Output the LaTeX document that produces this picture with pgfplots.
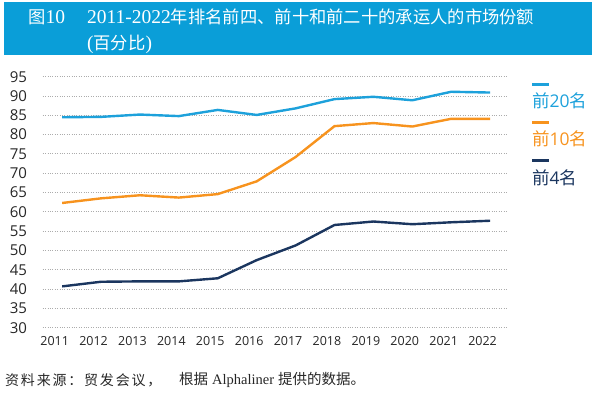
\documentclass[border=0pt]{standalone}
\usepackage{fontspec}
\usepackage{pgfplots}
\pgfplotsset{compat=1.18}
\setmainfont{Open Sans}
\newfontfamily\cjk{Noto Sans CJK SC}
\newfontfamily\tnr{Liberation Serif}
\definecolor{c20}{HTML}{1DA1DB}
\definecolor{c10}{HTML}{F7931E}
\definecolor{c4}{HTML}{1B365F}
\definecolor{bar}{HTML}{0A9ED8}
\definecolor{tick}{HTML}{262626}
\begin{document}
\begin{tikzpicture}
\begin{scope}[x=1pt,y=-1pt]
\useasboundingbox (0,0) rectangle (596,399);
\fill[bar] (4,2) rectangle (592,55);
\node[anchor=west,inner sep=0,text=white] at (28,17) {\fontsize{17.3}{18}\cjk 图\tnr\fontsize{19.5}{20}\selectfont 10};
\node[anchor=west,inner sep=0,text=white] at (87,17) {\tnr\fontsize{19.5}{20}\selectfont 2011-2022\fontsize{17.3}{18}\cjk 年排名前四、前十和前二十的承运人的市场份额};
\node[anchor=west,inner sep=0,text=white] at (87,44) {\tnr\fontsize{19.5}{20}\selectfont (\fontsize{17.3}{18}\cjk 百分比\tnr\fontsize{19.5}{20}\selectfont )};
% legend
\draw[c20,line width=3pt] (532,84.3) -- (549,84.3);
\node[anchor=west,inner sep=0,text=c20] at (532,100.5) {\fontsize{17.5}{18}\cjk 前\rmfamily\fontsize{17.5}{18}\selectfont 20\cjk 名};
\draw[c10,line width=3pt] (532,122.3) -- (549,122.3);
\node[anchor=west,inner sep=0,text=c10] at (532,139) {\fontsize{17.5}{18}\cjk 前\rmfamily\fontsize{17.5}{18}\selectfont 10\cjk 名};
\draw[c4,line width=3pt] (532,160.7) -- (549,160.7);
\node[anchor=west,inner sep=0,text=c4] at (532,177.3) {\fontsize{17.5}{18}\cjk 前\rmfamily\fontsize{17.5}{18}\selectfont 4\cjk 名};
% source
\node[anchor=west,inner sep=0,text=black!85] at (5,380) {\fontsize{14}{15}\cjk 资\hspace{1.8pt}料\hspace{1.8pt}来\hspace{1.8pt}源\hspace{1.8pt}：\hspace{1.8pt}贸\hspace{1.8pt}发\hspace{1.8pt}会\hspace{1.8pt}议\hspace{1.8pt}，};
\node[anchor=west,inner sep=0,text=black!85] at (179,380) {\fontsize{14.5}{15}\cjk 根据\hspace{4pt}\tnr\fontsize{14.5}{15}\selectfont Alphaliner\hspace{4pt}\cjk 提供的数据。};
\end{scope}
\begin{axis}[
  at={(42.7pt,-327.7pt)}, anchor=south west,
  scale only axis, width=465.3pt, height=251pt,
  xmin=2010.5, xmax=2022.46, ymin=30, ymax=95,
  axis line style={draw=none}, major tick length=0pt,
  ymajorgrids, grid style={dotted, line width=0.9pt, color=gray!65},
  xtick={2011,...,2022}, ytick={30,35,...,95},
  /pgf/number format/assume math mode=true,
  /pgf/number format/1000 sep={},
  xticklabel style={font=\fontsize{12.5}{12.5}\selectfont, text=tick, anchor=center, yshift=-13pt, xshift=-7.5pt, inner sep=0pt},
  yticklabel style={font=\fontsize{15}{15}\selectfont, text=tick, anchor=east, xshift=-15.5pt, inner sep=0pt},
  clip=false,
]
\addplot[c20, line width=2.4pt] coordinates {(2011,84.5) (2012,84.6) (2013,85.2) (2014,84.8) (2015,86.4) (2016,85.1) (2017,86.8) (2018,89.2) (2019,89.8) (2020,88.9) (2021,91.1) (2022,90.9)};
\addplot[c10, line width=2.4pt] coordinates {(2011,62.3) (2012,63.5) (2013,64.3) (2014,63.7) (2015,64.6) (2016,67.9) (2017,74.2) (2018,82.2) (2019,83.0) (2020,82.1) (2021,84.1) (2022,84.1)};
\addplot[c4, line width=2.4pt] coordinates {(2011,40.7) (2012,41.9) (2013,42.0) (2014,42.0) (2015,42.8) (2016,47.5) (2017,51.3) (2018,56.6) (2019,57.5) (2020,56.8) (2021,57.3) (2022,57.7)};
\end{axis}
\end{tikzpicture}
\end{document}
